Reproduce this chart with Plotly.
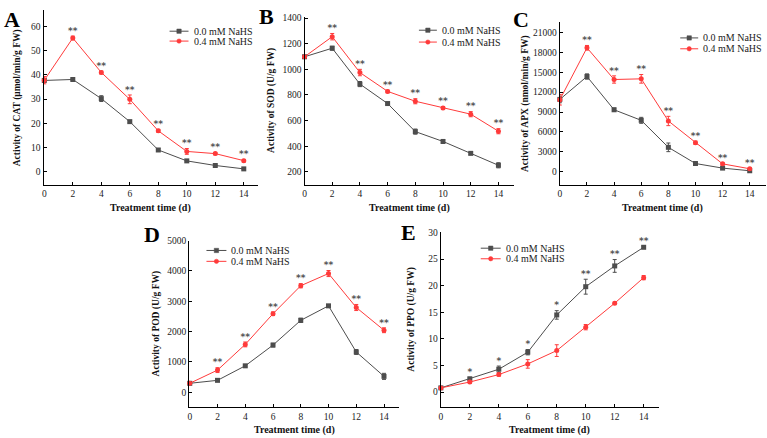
import plotly.graph_objects as go

W, H = 767, 438

days = [0, 2, 4, 6, 8, 10, 12, 14]
day_ticks = [0, 2, 4, 6, 8, 10, 12, 14]
series_names = ["0.0 mM NaHS", "0.4 mM NaHS"]

# CAT (µmol/min/g FW)
cat_ctrl = [37.7, 38.1, 30.2, 20.7, 9.0, 4.5, 2.6, 1.2]
cat_ctrl_err = [0.5, 0.4, 1.2, 0.5, 0.6, 0.4, 0.3, 0.3]
cat_nahs = [37.8, 55.2, 41.0, 29.9, 16.9, 8.4, 7.5, 4.6]
cat_nahs_err = [1.5, 0.8, 0.6, 1.8, 0.6, 1.2, 0.5, 0.5]
cat_stars = ["", "**", "**", "**", "**", "**", "**", "**"]

# SOD (U/g FW)
sod_ctrl = [1098, 1165, 885, 733, 514, 437, 344, 251]
sod_ctrl_err = [10, 15, 20, 10, 20, 15, 8, 20]
sod_nahs = [1098, 1255, 975, 828, 751, 699, 650, 517]
sod_nahs_err = [10, 25, 25, 10, 20, 10, 20, 20]
sod_stars = ["", "**", "**", "**", "**", "**", "**", "**"]

# APX (nmol/min/g FW)
apx_ctrl = [10900, 14350, 9340, 7750, 3680, 1240, 550, 150]
apx_ctrl_err = [500, 400, 250, 450, 650, 150, 150, 200]
apx_nahs = [10850, 18680, 13900, 14000, 7650, 4370, 1190, 450]
apx_nahs_err = [800, 350, 550, 650, 700, 250, 150, 150]
apx_stars = ["", "**", "**", "**", "**", "**", "**", "**"]

# POD (U/g FW)
pod_ctrl = [293, 391, 870, 1554, 2370, 2848, 1326, 522]
pod_ctrl_err = [30, 40, 40, 60, 70, 40, 80, 100]
pod_nahs = [293, 728, 1576, 2587, 3511, 3913, 2793, 2043]
pod_nahs_err = [30, 80, 80, 60, 70, 100, 100, 80]
pod_stars = ["", "**", "**", "**", "**", "**", "**", "**"]

# PPO (U/g FW)
ppo_ctrl = [0.8, 2.5, 4.3, 7.5, 14.5, 19.8, 23.7, 27.2]
ppo_ctrl_err = [0.2, 0.3, 0.6, 0.5, 0.8, 1.4, 1.2, 0.2]
ppo_nahs = [0.8, 1.9, 3.3, 5.3, 7.8, 12.2, 16.7, 21.5]
ppo_nahs_err = [0.2, 0.2, 0.3, 0.8, 1.1, 0.5, 0.2, 0.4]
ppo_stars = ["", "*", "*", "*", "*", "**", "**", "**"]

GRAY = "#4d4d4d"
RED = "#ff3a3a"
FONT = "Liberation Serif"


def fx(px):
    return px / W


def fy(py):
    return 1 - py / H


panels = [
    dict(letter="A", ctrl=cat_ctrl, ce=cat_ctrl_err, nahs=cat_nahs, ne=cat_nahs_err, stars=cat_stars,
         ytitle="Activity of CAT (μmol/min/g FW)", xd=(41.7, 256.7), yd=(5, 181.7),
         yr=[-5.3, 66.8], xr=[-0.05, 15.0], yt=[0, 10, 20, 30, 40, 50, 60],
         letter_pos=(10, 14.5), ytx=15, xty=205,
         leg=dict(x0=168, x1=187, tx=190, rows=(26.5, 36.5))),
    dict(letter="B", ctrl=sod_ctrl, ce=sod_ctrl_err, nahs=sod_nahs, ne=sod_nahs_err, stars=sod_stars,
         ytitle="Activity of SOD (U/g FW)", xd=(303.3, 513), yd=(11.7, 181.7),
         yr=[100, 1412], xr=[0, 15.1], yt=[200, 400, 600, 800, 1000, 1200, 1400],
         letter_pos=(265, 12), ytx=270, xty=205,
         leg=dict(x0=418, x1=436, tx=439, rows=(25.5, 37.5))),
    dict(letter="C", ctrl=apx_ctrl, ce=apx_ctrl_err, nahs=apx_nahs, ne=apx_nahs_err, stars=apx_stars,
         ytitle="Activity of APX (nmol/min/g FW)", xd=(559.3, 766), yd=(17.3, 181.7),
         yr=[-1940, 22550], xr=[0, 15.2], yt=[0, 3000, 6000, 9000, 12000, 15000, 18000, 21000],
         letter_pos=(520, 14.5), ytx=525, xty=205,
         leg=dict(x0=680, x1=698, tx=701, rows=(33.3, 44.3))),
    dict(letter="D", ctrl=pod_ctrl, ce=pod_ctrl_err, nahs=pod_nahs, ne=pod_nahs_err, stars=pod_stars,
         ytitle="Activity of POD (U/g FW)", xd=(187.7, 398.3), yd=(238.3, 406.7),
         yr=[-490, 5000], xr=[-0.04, 15.1], yt=[0, 1000, 2000, 3000, 4000, 5000],
         letter_pos=(150, 232), ytx=155, xty=430,
         leg=dict(x0=205, x1=225, tx=228, rows=(248.3, 259.3))),
    dict(letter="E", ctrl=ppo_ctrl, ce=ppo_ctrl_err, nahs=ppo_nahs, ne=ppo_nahs_err, stars=ppo_stars,
         ytitle="Activity of PPO (U/g FW)", xd=(440, 658.3), yd=(230, 406.7),
         yr=[-2.8, 30], xr=[0, 15.03], yt=[0, 5, 10, 15, 20, 25, 30],
         letter_pos=(408, 230), ytx=411, xty=430,
         leg=dict(x0=480, x1=500, tx=503, rows=(246, 256.7))),
]

fig = go.Figure()
layout = dict(
    width=W, height=H, margin=dict(l=0, r=0, t=0, b=0),
    paper_bgcolor="white", plot_bgcolor="white", showlegend=False,
    font=dict(family=FONT, color="#222", size=10),
)
annotations = []
shapes = []

for i, p in enumerate(panels):
    n = i + 1
    xa = "x" if n == 1 else f"x{n}"
    ya = "y" if n == 1 else f"y{n}"
    for vals, errs, color, sym in [(p["ctrl"], p["ce"], GRAY, "square"), (p["nahs"], p["ne"], RED, "circle")]:
        fig.add_trace(go.Scatter(
            x=days, y=vals, xaxis=xa, yaxis=ya, mode="lines+markers",
            line=dict(color=color, width=1),
            marker=dict(color=color, size=5, symbol=sym),
            error_y=dict(type="data", array=errs, color=color, thickness=1, width=2),
            cliponaxis=False,
        ))
    star_y = [max(a + ea, b + eb) for a, ea, b, eb in zip(p["ctrl"], p["ce"], p["nahs"], p["ne"])]
    fig.add_trace(go.Scatter(
        x=days, y=star_y, xaxis=xa, yaxis=ya, mode="text",
        text=[f"<b>{s}</b>" if s else "" for s in p["stars"]],
        textposition="top center", textfont=dict(family="DejaVu Sans", size=9, color="#555555"),
        cliponaxis=False, hoverinfo="skip",
    ))
    axcommon = dict(showline=True, linecolor="black", linewidth=1.2, ticks="inside",
                    ticklen=3, tickwidth=1, tickcolor="black", showgrid=False, zeroline=False,
                    tickfont=dict(family=FONT, size=9.5, color="#222"))
    layout["xaxis" if n == 1 else f"xaxis{n}"] = dict(
        domain=[fx(p["xd"][0]), fx(p["xd"][1])], range=p["xr"], anchor=ya,
        tickvals=day_ticks, ticktext=[str(d) for d in day_ticks], **axcommon)
    layout["yaxis" if n == 1 else f"yaxis{n}"] = dict(
        domain=[fy(p["yd"][1]), fy(p["yd"][0])], range=p["yr"], anchor=xa,
        tickvals=p["yt"], ticktext=[str(v) for v in p["yt"]], **axcommon)
    # panel letter
    annotations.append(dict(text=f"<b>{p['letter']}</b>", x=fx(p["letter_pos"][0]), y=fy(p["letter_pos"][1]),
                            xref="paper", yref="paper", showarrow=False, xanchor="center", yanchor="middle",
                            font=dict(family=FONT, size=22, color="black")))
    # y title
    annotations.append(dict(text=f"<b>{p['ytitle']}</b>", x=fx(p["ytx"]),
                            y=fy((p["yd"][0] + p["yd"][1]) / 2), xref="paper", yref="paper",
                            showarrow=False, textangle=-90, xanchor="center", yanchor="middle",
                            font=dict(family=FONT, size=9.5, color="#111")))
    # x title
    annotations.append(dict(text="<b>Treatment time (d)</b>", x=fx((p["xd"][0] + p["xd"][1]) / 2),
                            y=fy(p["xty"]), xref="paper", yref="paper", showarrow=False,
                            xanchor="center", yanchor="middle",
                            font=dict(family=FONT, size=10, color="#111")))
    # legend
    lg = p["leg"]
    for name, color, sym, row in [(series_names[0], GRAY, "square", lg["rows"][0]),
                                  (series_names[1], RED, "circle", lg["rows"][1])]:
        shapes.append(dict(type="line", xref="paper", yref="paper", x0=fx(lg["x0"]), x1=fx(lg["x1"]),
                           y0=fy(row), y1=fy(row), line=dict(color=color, width=1)))
        cx = (lg["x0"] + lg["x1"]) / 2
        shapes.append(dict(type="rect" if sym == "square" else "circle", xref="paper", yref="paper",
                           x0=fx(cx - 2.2), x1=fx(cx + 2.2), y0=fy(row + 2.2), y1=fy(row - 2.2),
                           fillcolor=color, line=dict(color=color, width=0.5)))
        annotations.append(dict(text=name, x=fx(lg["tx"]), y=fy(row), xref="paper", yref="paper",
                                showarrow=False, xanchor="left", yanchor="middle",
                                font=dict(family=FONT, size=10, color="#222")))

layout["annotations"] = annotations
layout["shapes"] = shapes
fig.update_layout(**layout)
fig.write_html("out.html", config={"displayModeBar": False},
               post_script="document.body.style.margin='0';document.body.style.overflow='hidden';")
